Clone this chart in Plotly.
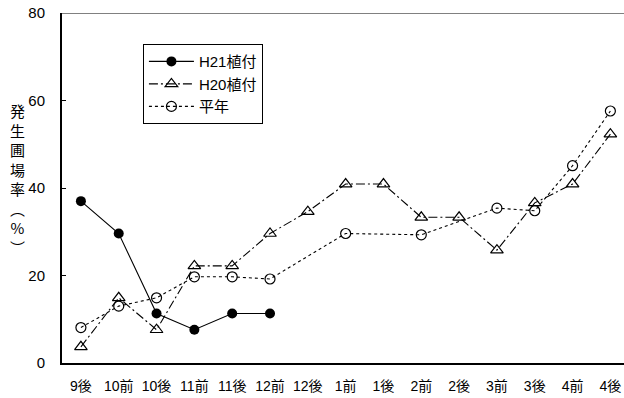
import plotly.graph_objects as go

categories = ["9後", "10前", "10後", "11前", "11後", "12前", "12後", "1前", "1後",
              "2前", "2後", "3前", "3後", "4前", "4後"]
h21 = [37.0, 29.6, 11.3, 7.6, 11.3, 11.3, None, None, None, None, None, None, None, None, None]
h20 = [3.7, 14.9, 7.6, 22.2, 22.2, 29.6, 34.6, 40.9, 40.9, 33.3, 33.3, 25.8, 36.6, 40.9, 52.3]
heinen = [8.1, 13.0, 14.9, 19.7, 19.7, 19.2, None, 29.6, None, 29.3, None, 35.4, 34.8, 45.1, 57.6]
y_ticks = [0, 20, 40, 60, 80]
y_label = ["発", "生", "圃", "場", "率", "︵", "%", "︶"]

xi = list(range(len(categories)))
font_main = "Liberation Sans, Arial, Noto Sans CJK JP, sans-serif"

fig = go.Figure()
fig.add_trace(go.Scatter(
    x=xi, y=h21, name="H21植付", mode="lines+markers",
    line=dict(color="black", width=1.1, dash="solid"),
    marker=dict(symbol="circle", size=10, color="black"),
))
fig.add_trace(go.Scatter(
    x=xi, y=h20, name="H20植付", mode="lines+markers", connectgaps=True,
    line=dict(color="black", width=1.1, dash="9px,3px,2px,3px"),
    marker=dict(symbol="triangle-up-open", size=11, color="black", line=dict(width=1.2)),
))
fig.add_trace(go.Scatter(
    x=xi, y=heinen, name="平年", mode="lines+markers", connectgaps=True,
    line=dict(color="black", width=1.1, dash="dot"),
    marker=dict(symbol="circle-open", size=10, color="black", line=dict(width=1.2)),
))

fig.add_shape(type="line", xref="paper", yref="y", x0=0, x1=1, y0=80, y1=80,
              line=dict(color="#808080", width=2))

fig.add_annotation(
    text="<br>".join(y_label), xref="paper", yref="paper", x=-0.08, y=0.527,
    xanchor="center", yanchor="middle", showarrow=False, align="center",
    font=dict(size=15, color="black", family="Noto Sans CJK JP, sans-serif"),
)

fig.update_layout(
    width=624, height=398,
    margin=dict(l=62, r=0, t=13, b=35),
    paper_bgcolor="white", plot_bgcolor="white",
    font=dict(family=font_main, color="black", size=14),
    showlegend=True,
    legend=dict(
        x=0.144, y=0.911, xanchor="left", yanchor="top",
        bordercolor="black", borderwidth=1, bgcolor="white",
        font=dict(size=15, family=font_main), tracegroupgap=0, itemwidth=45,
    ),
    xaxis=dict(
        range=[-0.5, 14.36], tickmode="array", tickvals=xi, ticktext=categories,
        showgrid=False, zeroline=False, showline=True, linecolor="black", linewidth=2,
        ticks="", tickfont=dict(size=14), fixedrange=True, automargin=False,
        ticklabelstandoff=9,
    ),
    yaxis=dict(
        range=[0, 80], tickmode="array", tickvals=y_ticks,
        showgrid=False, zeroline=False, showline=True, linecolor="black", linewidth=2,
        ticks="inside", ticklen=4, tickcolor="black", tickfont=dict(size=15),
        ticklabelstandoff=12, automargin=False, fixedrange=True,
    ),
)

fig.write_html("out.html", post_script="document.body.style.margin='0';",
               config={"displayModeBar": False})
